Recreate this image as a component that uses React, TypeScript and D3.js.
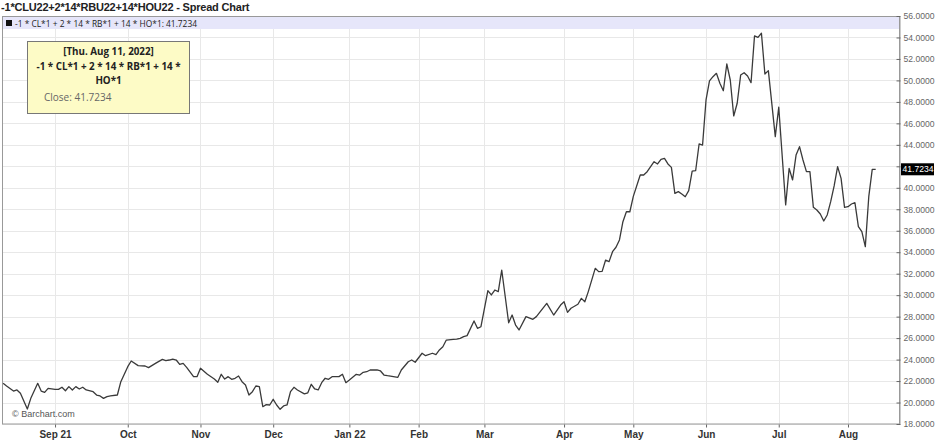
import { useEffect, useRef } from "react";
import * as d3 from "d3";

// trading-session index (0 = Aug 11 2021) and close at that session
const sessions = [
  0, 1, 3, 4, 5, 7, 8, 10, 11, 12, 13, 15, 16, 17, 18, 19, 20, 21, 22, 23, 24, 26, 27, 28, 29, 30, 31, 33, 34, 36,
  37, 39, 41, 42, 44, 46, 47, 48, 49, 50, 51, 52, 53, 55, 56, 57, 59, 61, 62, 63, 64, 65, 66, 67, 68, 69, 70, 71,
  72, 73, 74, 75, 76, 77, 78, 79, 80, 81, 82, 83, 84, 85, 87, 88, 89, 90, 91, 92, 93, 94, 95, 97, 98, 99, 100,
  102, 103, 104, 105, 106, 108, 109, 110, 111, 114, 115, 117, 118, 119, 121, 122, 124, 125, 126, 127, 128, 130,
  131, 132, 133, 134, 136, 137, 138, 140, 141, 142, 143, 144, 146, 147, 148, 149, 151, 153, 154, 157, 159, 161,
  162, 163, 164, 166, 167, 168, 169, 171, 172, 173, 174, 175, 176, 177, 178, 179, 180, 181, 182, 184, 185, 186,
  188, 189, 190, 191, 192, 193, 194, 195, 196, 197, 198, 199, 200, 201, 202, 203, 204, 205, 206, 207, 208, 209,
  210, 211, 212, 213, 214, 215, 216, 217, 218, 219, 220, 221, 223, 224, 226, 227, 228, 229, 230, 231, 232, 233,
  234, 235, 236, 237, 238, 239, 240, 241, 242, 243, 244, 245, 246, 247, 248, 249, 250, 251, 252,
];
const closes = [
  21.79, 21.54, 21.07, 21.17, 20.86, 19.4, 20.39, 21.79, 21.07, 20.95, 21.32, 21.23, 21.23, 21.42, 21.1, 21.48,
  21.17, 21.48, 21.26, 21.42, 21.17, 21.01, 20.7, 20.61, 20.39, 20.55, 20.61, 20.7, 21.94, 23.34, 23.87, 23.44,
  23.4, 23.25, 23.65, 24.02, 23.9, 23.96, 24.05, 23.96, 23.55, 23.65, 23.28, 22.41, 22.41, 23.19, 22.63, 22.19,
  21.89, 22.63, 22.19, 22.41, 22.16, 22.26, 22.47, 21.94, 21.63, 20.7, 21.01, 21.54, 21.48, 19.61, 19.8, 19.77,
  20.3, 19.77, 19.37, 19.68, 19.77, 21.01, 21.42, 21.17, 20.8, 20.9, 21.7, 21.26, 21.17, 21.85, 22.26, 22.16,
  22.41, 22.41, 22.63, 21.85, 22.1, 22.63, 22.56, 22.81, 22.87, 23.03, 23.03, 22.94, 22.56, 22.5, 22.35, 23.03,
  23.8, 23.96, 23.75, 24.59, 24.36, 24.59, 24.47, 24.9, 25.2, 25.82, 25.88, 25.9, 25.98, 26.13, 26.23, 27.6,
  26.91, 27.06, 30.42, 30.02, 30.48, 30.33, 32.34, 27.43, 28.15, 27.22, 26.76, 28.0, 27.75, 28.0, 29.24, 28.15,
  29.08, 29.39, 28.4, 28.78, 29.15, 29.7, 29.39, 30.33, 32.5, 32.19, 32.22, 33.27, 33.12, 34.05, 34.46, 35.14,
  36.84, 37.77, 37.77, 39.2, 41.19, 41.19, 41.5, 42.43, 42.22, 42.65, 42.74, 42.22, 41.9, 39.48, 39.64, 39.42,
  39.17, 39.73, 41.56, 41.59, 44.08, 43.98, 48.18, 49.95, 50.35, 50.66, 49.73, 49.04, 51.53, 50.04, 46.69,
  47.87, 50.5, 50.72, 50.41, 49.79, 54.14, 54.01, 54.39, 50.6, 50.91, 44.76, 47.5, 38.4, 41.81, 40.73, 43.05,
  43.83, 42.59, 41.5, 41.5, 38.18, 37.93, 37.56, 36.91, 37.47, 38.71, 40.17, 41.97, 40.88, 38.18, 38.24, 38.49,
  38.61, 36.38, 35.91, 34.52, 39.17, 41.72, 41.7234,
];

const monthLabels = ["Sep 21", "Oct", "Nov", "Dec", "Jan 22", "Feb", "Mar", "Apr", "May", "Jun", "Jul", "Aug"];
const monthSessions = [15, 36, 57, 78, 100, 120, 139, 162, 182, 203, 224, 244];
const yTicks = d3.range(18, 57, 2);

const title = "-1*CLU22+2*14*RBU22+14*HOU22 - Spread Chart";
const seriesName = "-1 * CL*1 + 2 * 14 * RB*1 + 14 * HO*1";
const lastClose = 41.7234;
const tooltipLines = ["[Thu. Aug 11, 2022]", "-1 * CL*1 + 2 * 14 * RB*1 + 14 *", "HO*1"];

export default function App() {
  const ref = useRef<SVGSVGElement>(null);

  useEffect(() => {
    if (!ref.current) return;
    const svg = d3.select(ref.current);
    svg.selectAll("*").remove();

    const width = 936;
    const height = 442;
    const plot = { left: 2, right: 899, top: 17, bottom: 424 };
    const axisFont = "'Liberation Sans', Arial, sans-serif";
    const uiFont = "'Open Sans', 'Noto Sans', sans-serif";

    const x = d3.scaleLinear().domain([0, 252]).range([3.1, 875.7]);
    const y = d3.scaleLinear().domain([18, 56]).range([plot.bottom, 16]);

    svg.append("rect").attr("width", width).attr("height", height).attr("fill", "#fff");

    // title
    svg
      .append("text")
      .attr("x", 1)
      .attr("y", 11)
      .attr("font-family", axisFont)
      .attr("font-size", "11px")
      .attr("letter-spacing", "-0.2px")
      .attr("font-weight", "bold")
      .attr("fill", "#222")
      .text(title);

    // gridlines
    const grid = svg.append("g").attr("stroke", "#e8e8e8").attr("stroke-width", 1);
    yTicks.forEach((v) => {
      grid
        .append("line")
        .attr("x1", plot.left)
        .attr("x2", plot.right)
        .attr("y1", Math.round(y(v)) + 0.5)
        .attr("y2", Math.round(y(v)) + 0.5);
    });
    monthSessions.forEach((s) => {
      grid
        .append("line")
        .attr("x1", Math.round(x(s)) + 0.5)
        .attr("x2", Math.round(x(s)) + 0.5)
        .attr("y1", plot.top)
        .attr("y2", plot.bottom);
    });

    // legend band
    svg
      .append("rect")
      .attr("x", plot.left)
      .attr("y", plot.top)
      .attr("width", plot.right - plot.left)
      .attr("height", 12)
      .attr("fill", "#e6e6fa");
    svg.append("rect").attr("x", 6).attr("y", 20).attr("width", 6).attr("height", 6).attr("fill", "#111");
    svg
      .append("text")
      .attr("x", 15)
      .attr("y", 26.5)
      .attr("font-family", uiFont)
      .attr("font-size", "8.4px")
      .attr("fill", "#222")
      .text(`${seriesName}: ${lastClose.toFixed(4)}`);

    // frame
    svg
      .append("rect")
      .attr("x", plot.left + 0.5)
      .attr("y", plot.top - 0.5)
      .attr("width", plot.right - plot.left)
      .attr("height", plot.bottom - plot.top + 0.5)
      .attr("fill", "none")
      .attr("stroke", "#999");

    // price line
    const pts = sessions.map((s, i) => [s, closes[i]] as [number, number]);
    svg
      .append("path")
      .datum(pts)
      .attr("fill", "none")
      .attr("stroke", "#3a3a3a")
      .attr("stroke-width", 1.3)
      .attr("stroke-linejoin", "round")
      .attr("d", d3.line<[number, number]>().x((d) => x(d[0])).y((d) => y(d[1])));

    // right axis
    const ly = y(lastClose);
    svg
      .append("g")
      .attr("transform", `translate(${plot.right + 0.5},0)`)
      .call(d3.axisRight(y).tickValues(yTicks).tickSize(0).tickPadding(4).tickFormat((d) => (+d).toFixed(4)))
      .call((g) => g.select(".domain").attr("stroke", "#999"))
      .call((g) => g.selectAll(".tick line").attr("stroke", "#666").attr("x1", -3).attr("x2", 1))
      .call((g) =>
        g
          .selectAll<SVGTextElement, number>(".tick text")
          .attr("x", 4)
          .attr("fill", "#666")
          .attr("font-family", axisFont)
          .attr("font-size", "8.6px")
          .attr("opacity", (d) => (Math.abs(y(d) - ly) < 10 ? 0 : 1))
      );

    // bottom axis
    const xb = svg.append("g").attr("transform", `translate(0,${plot.bottom + 0.5})`);
    xb.call(
      d3
        .axisBottom(x)
        .tickValues(monthSessions)
        .tickSize(3)
        .tickPadding(3)
        .tickFormat((_, i) => monthLabels[i])
    )
      .call((g) => g.select(".domain").remove())
      .call((g) => g.selectAll(".tick line").attr("stroke", "#666"))
      .call((g) =>
        g
          .selectAll(".tick text")
          .attr("fill", "#333")
          .attr("font-family", axisFont)
          .attr("font-size", "10px")
          .attr("font-weight", "bold")
      );

    // last value marker
    svg
      .append("rect")
      .attr("x", plot.right + 2)
      .attr("y", ly - 6)
      .attr("width", 33)
      .attr("height", 12)
      .attr("fill", "#000");
    svg
      .append("text")
      .attr("x", plot.right + 3.5)
      .attr("y", ly + 3)
      .attr("font-family", axisFont)
      .attr("font-size", "8.6px")
      .attr("fill", "#fff")
      .text(lastClose.toFixed(4));

    // watermark
    svg
      .append("text")
      .attr("x", 12)
      .attr("y", 417)
      .attr("font-family", axisFont)
      .attr("font-size", "9px")
      .attr("fill", "#555")
      .text("© Barchart.com");

    // tooltip
    const tip = svg.append("g");
    tip
      .append("rect")
      .attr("x", 27.5)
      .attr("y", 41.5)
      .attr("width", 162)
      .attr("height", 72)
      .attr("fill", "#fdfbc6")
      .attr("stroke", "#777");
    tooltipLines.forEach((t, i) => {
      tip
        .append("text")
        .attr("x", 108.5)
        .attr("y", 55 + i * 14.5)
        .attr("text-anchor", "middle")
        .attr("font-family", uiFont)
        .attr("font-size", "9.8px")
        .attr("font-weight", "bold")
        .attr("fill", "#222")
        .text(t);
    });
    tip
      .append("text")
      .attr("x", 44)
      .attr("y", 100.5)
      .attr("font-family", uiFont)
      .attr("font-size", "10px")
      .attr("fill", "#666")
      .text(`Close: ${lastClose.toFixed(4)}`);
  }, []);

  return (
    <svg
      ref={ref}
      width={936}
      height={442}
      style={{ position: "absolute", left: 0, top: 0, display: "block" }}
    />
  );
}
